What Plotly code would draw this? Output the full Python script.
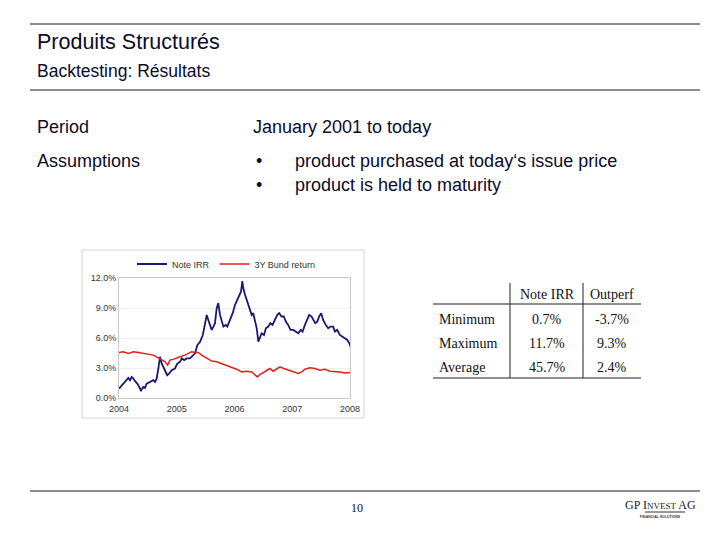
import plotly.graph_objects as go

# Note IRR (navy)
note_dates = [
    "2004-01-01", "2004-01-18", "2004-02-07", "2004-02-29", "2004-03-11", "2004-03-21",
    "2004-04-01", "2004-04-11", "2004-04-26", "2004-05-09", "2004-05-19", "2004-06-03",
    "2004-06-13", "2004-06-24", "2004-07-15", "2004-08-05", "2004-08-16", "2004-08-26",
    "2004-09-06", "2004-09-16", "2004-09-27", "2004-10-18", "2004-11-01", "2004-11-14",
    "2004-11-29", "2004-12-20", "2005-01-04", "2005-01-21", "2005-02-01", "2005-02-16",
    "2005-03-04", "2005-03-25", "2005-04-15", "2005-04-26", "2005-05-11", "2005-05-28",
    "2005-06-14", "2005-06-28", "2005-07-09", "2005-07-19", "2005-07-30", "2005-08-09",
    "2005-08-20", "2005-08-30", "2005-09-10", "2005-09-20", "2005-10-01", "2005-10-12",
    "2005-10-22", "2005-11-06", "2005-11-16", "2005-12-03", "2005-12-20", "2006-01-04",
    "2006-01-18", "2006-01-31", "2006-02-11", "2006-02-19", "2006-02-25", "2006-03-08",
    "2006-03-18", "2006-03-29", "2006-04-08", "2006-04-19", "2006-04-29", "2006-05-10",
    "2006-05-21", "2006-05-31", "2006-06-11", "2006-06-21", "2006-07-06", "2006-07-18",
    "2006-08-02", "2006-08-16", "2006-08-29", "2006-09-13", "2006-09-28", "2006-10-10",
    "2006-10-25", "2006-11-08", "2006-11-21", "2006-12-06", "2006-12-21", "2007-01-07",
    "2007-01-24", "2007-02-08", "2007-02-23", "2007-03-07", "2007-03-22", "2007-04-05",
    "2007-04-18", "2007-05-03", "2007-05-13", "2007-05-26", "2007-06-08", "2007-06-20",
    "2007-07-03", "2007-07-15", "2007-08-01", "2007-08-16", "2007-08-31", "2007-09-17",
    "2007-09-27", "2007-10-12", "2007-10-29", "2007-11-13", "2007-11-30", "2007-12-15",
    "2007-12-28", "2008-01-04",
]
note_irr = [
    0.94, 1.27, 1.61, 2.01, 1.78, 2.11,
    1.94, 1.68, 1.44, 1.11, 0.75, 1.11,
    1.01, 1.44, 1.61, 1.78, 1.61, 1.94,
    2.95, 4.12, 3.45, 2.78, 2.28, 2.45,
    2.78, 2.95, 3.45, 3.62, 3.96, 3.79,
    3.96, 3.96, 4.29, 4.46, 5.30, 5.63,
    6.30, 7.31, 8.31, 7.81, 7.31, 6.81,
    7.14, 7.48, 8.98, 9.49, 8.31, 7.64,
    7.14, 7.31, 7.14, 7.81, 8.48, 9.32,
    9.82, 10.33, 10.66, 11.70, 11.00, 10.33,
    9.82, 9.15, 8.65, 8.31, 8.48, 7.81,
    6.97, 5.63, 6.13, 6.47, 6.30, 6.97,
    7.14, 7.48, 7.31, 7.81, 8.31, 8.48,
    8.15, 8.15, 7.64, 7.31, 6.81, 6.81,
    6.64, 6.47, 6.81, 6.64, 7.31, 7.81,
    8.31, 8.15, 7.81, 7.48, 7.64, 8.15,
    8.48, 7.81, 7.31, 6.97, 7.14, 7.14,
    6.64, 6.81, 6.30, 6.13, 5.97, 5.80,
    5.46, 5.13,
]

# 3Y Bund return (red)
bund_dates = [
    "2004-01-01", "2004-01-28", "2004-02-29", "2004-04-01", "2004-05-02", "2004-06-03",
    "2004-07-04", "2004-08-05", "2004-09-06", "2004-09-27", "2004-10-18", "2004-11-04",
    "2004-11-18", "2004-12-09", "2004-12-31", "2005-01-21", "2005-02-22", "2005-03-15",
    "2005-04-04", "2005-04-26", "2005-05-17", "2005-06-07", "2005-07-09", "2005-08-09",
    "2005-09-10", "2005-10-12", "2005-11-12", "2005-12-13", "2006-01-14", "2006-02-15",
    "2006-03-18", "2006-04-19", "2006-05-10", "2006-05-25", "2006-06-11", "2006-07-01",
    "2006-07-23", "2006-08-12", "2006-09-02", "2006-09-24", "2006-10-15", "2006-11-08",
    "2006-12-06", "2007-01-07", "2007-02-08", "2007-03-01", "2007-03-22", "2007-04-22",
    "2007-05-24", "2007-06-25", "2007-07-26", "2007-08-27", "2007-09-27", "2007-10-29",
    "2007-11-30", "2008-01-04",
]
bund_return = [
    4.56, 4.63, 4.46, 4.63, 4.56, 4.46,
    4.36, 4.29, 4.02, 3.79, 3.62, 3.29,
    3.79, 3.86, 3.96, 4.12, 4.29, 4.46,
    4.63, 4.56, 4.56, 4.29, 3.96, 3.69,
    3.62, 3.45, 3.29, 3.12, 2.88, 2.61,
    2.68, 2.61, 2.28, 2.11, 2.35, 2.55,
    2.78, 2.95, 2.68, 2.88, 3.12, 2.95,
    2.78, 2.61, 2.45, 2.61, 2.88, 3.02,
    2.95, 2.78, 2.88, 2.68, 2.68, 2.61,
    2.51, 2.55,
]

y_ticks = [0, 3, 6, 9, 12]
y_tick_labels = ["0.0%", "3.0%", "6.0%", "9.0%", "12.0%"]

# results table
table_cols = ["Note IRR", "Outperf"]
table_rows = ["Minimum", "Maximum", "Average"]
table_note = ["0.7%", "11.7%", "45.7%"]
table_outperf = ["-3.7%", "9.3%", "2.4%"]

W, H = 720, 540
OFF = 8  # page body margin, figure starts 8px in
TXT = "#0b0b2b"
SANS = "Liberation Sans, Arial, sans-serif"
SERIF = "Liberation Serif, Times New Roman, serif"


def px(x):
    return (x - OFF) / W


def py(y):
    return 1 - (y - OFF) / H


fig = go.Figure()

fig.add_trace(go.Scatter(
    x=note_dates, y=note_irr, mode="lines", name="Note IRR",
    line=dict(color="#1a1a6e", width=1.8)
))
fig.add_trace(go.Scatter(
    x=bund_dates, y=bund_return, mode="lines", name="3Y Bund return",
    line=dict(color="#e0201c", width=1.5)
))

fig.update_xaxes(
    domain=[px(119), px(350)], automargin=False,
    type="date", range=["2004-01-01", "2008-01-01"],
    dtick="M12", tick0="2004-01-01", tickformat="%Y",
    showgrid=False, zeroline=False,
    showline=True, linecolor="#c8c8c8", linewidth=1, mirror=True,
    tickfont=dict(family=SANS, size=9, color="#333333"),
    ticks="", ticklabelstandoff=2,
)
fig.update_yaxes(
    domain=[py(398), py(278)], automargin=False,
    range=[0, 12], tickvals=y_ticks, ticktext=y_tick_labels,
    showgrid=True, gridcolor="#f0f0f0", zeroline=False,
    showline=True, linecolor="#c8c8c8", linewidth=1, mirror=True,
    tickfont=dict(family=SANS, size=9, color="#333333"),
    ticks="",
)

shapes = []
# header / footer rules
for yy in (24, 90, 491):
    shapes.append(dict(type="line", xref="paper", yref="paper",
                       x0=px(30), x1=px(700), y0=py(yy), y1=py(yy),
                       line=dict(color="#1a1a1a", width=1)))
# chart frame
shapes.append(dict(type="rect", xref="paper", yref="paper",
                   x0=px(82), x1=px(364), y0=py(418), y1=py(250),
                   line=dict(color="#d4d4d4", width=1)))
# table rules
for yy in (304, 378):
    shapes.append(dict(type="line", xref="paper", yref="paper",
                       x0=px(433), x1=px(641), y0=py(yy), y1=py(yy),
                       line=dict(color="#222222", width=1)))
for xx in (510, 583):
    shapes.append(dict(type="line", xref="paper", yref="paper",
                       x0=px(xx), x1=px(xx), y0=py(378), y1=py(283),
                       line=dict(color="#222222", width=1)))
# logo underline
shapes.append(dict(type="line", xref="paper", yref="paper",
                   x0=px(645), x1=px(685), y0=py(512), y1=py(512),
                   line=dict(color="#333333", width=1)))

ann = []


def text(x, y, s, size, family=SANS, color=TXT, anchor="left"):
    ann.append(dict(x=px(x), y=py(y), xref="paper", yref="paper", text=s,
                    showarrow=False, xanchor=anchor, yanchor="middle",
                    font=dict(family=family, size=size, color=color)))


text(35, 42, "Produits Structurés", 21.5)
text(35, 71, "Backtesting: Résultats", 17.5)
text(35, 127, "Period", 18)
text(251, 127, "January 2001 to today", 18)
text(35, 161, "Assumptions", 18)
for yy, s in ((161, "product purchased at today‘s issue price"),
              (185, "product is held to maturity")):
    text(254, yy, "•", 18)
    text(293, yy, s, 18)

# table text
col_x = [547, 612]
for cx, head in zip(col_x, table_cols):
    text(cx, 294, head, 14, SERIF, "#111111", "center")
for i, row in enumerate(table_rows):
    yy = 320 + i * 23.5
    text(437, yy, row, 14, SERIF, "#111111")
    text(col_x[0], yy, table_note[i], 14, SERIF, "#111111", "center")
    text(col_x[1], yy, table_outperf[i], 14, SERIF, "#111111", "center")

# footer
text(357, 508, "10", 12, SERIF, "#111111", "center")
text(660, 505, "GP I<span style='font-size:9px'>NVEST</span> AG", 12, SERIF, "#222222", "center")
text(660, 517, "<b>FINANCIAL SOLUTIONS</b>", 3.5, SANS, "#333333", "center")

fig.update_layout(
    width=W, height=H,
    margin=dict(l=0, r=0, t=0, b=0, autoexpand=False),
    paper_bgcolor="white", plot_bgcolor="white",
    shapes=shapes, annotations=ann,
    showlegend=True,
    legend=dict(orientation="h", x=px(132), y=py(264), xanchor="left", yanchor="middle",
                font=dict(family=SANS, size=9, color="#333333"),
                bgcolor="rgba(0,0,0,0)", itemwidth=30, tracegroupgap=0),
)

fig.write_html("out.html")
